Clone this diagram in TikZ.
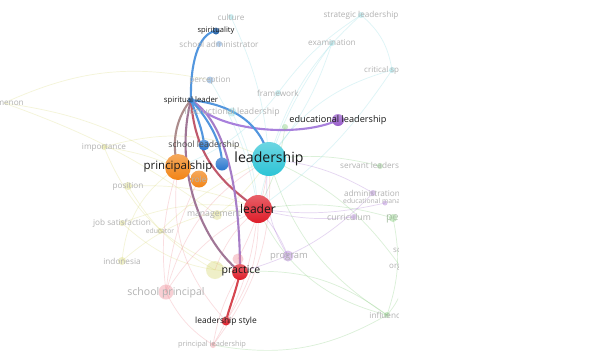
\documentclass[tikz,border=0pt]{standalone}
\usepackage{fontspec}
\setmainfont{Open Sans}
\definecolor{vcyan}{RGB}{45,196,214}
\definecolor{vred}{RGB}{222,28,40}
\definecolor{vorange}{RGB}{242,132,22}
\definecolor{vblue}{RGB}{40,118,206}
\definecolor{vpurple}{RGB}{152,92,202}
\definecolor{vgreen}{RGB}{110,196,100}
\definecolor{vyellow}{RGB}{212,212,100}
\definecolor{vpink}{RGB}{236,120,132}
\definecolor{vteal}{RGB}{120,214,222}
\definecolor{eblue}{RGB}{82,150,222}
\definecolor{epurple}{RGB}{168,128,220}
\definecolor{emauve}{RGB}{160,118,150}
\definecolor{ebrown}{RGB}{172,140,140}
\definecolor{ered}{RGB}{214,70,80}
\tikzset{
  bub/.style={circle,inner sep=0pt,minimum size=#1*0.06cm},
  lit/.style={top color=#1!70!white,bottom color=#1},
  dim/.style={fill=#1,opacity=0.35},
  word/.style={inner sep=0pt,text=black!90,font=\fontsize{#1}{#1}\selectfont},
  faint/.style={inner sep=0pt,text=black!30,font=\fontsize{#1}{#1}\selectfont},
  link/.style={draw=#1,line width=1.8pt,line cap=round},
  trace/.style={draw=#1,line width=0.6pt,opacity=0.25},
}
\begin{document}
\begin{tikzpicture}[x=0.03cm,y=-0.03cm]
\useasboundingbox (0,0) rectangle (614,350);
\fill[white] (0,0) rectangle (614,350);
\begin{scope}
\clip (0,0) rectangle (398,350);
% positions
\coordinate (spy) at (216,31);
\coordinate (cult) at (231,17);
\coordinate (schadm) at (219,44);
\coordinate (strat) at (361,15);
\coordinate (exam) at (332,43);
\coordinate (crit) at (392,70);
\coordinate (perc) at (210,80);
\coordinate (frame) at (278,93);
\coordinate (sl) at (191,100);
\coordinate (instr) at (232,112);
\coordinate (edu) at (338,120);
\coordinate (grn) at (285,127);
\coordinate (imp) at (104,147);
\coordinate (sld) at (204,145);
\coordinate (prin) at (178,167);
\coordinate (lead) at (269,159);
\coordinate (bb) at (222,164);
\coordinate (role) at (199,179);
\coordinate (pos) at (128,186);
\coordinate (serv) at (380,166);
\coordinate (adm) at (373,193);
\coordinate (edman) at (385,203);
\coordinate (curr) at (354,217);
\coordinate (perf) at (393,218);
\coordinate (leader) at (258,209);
\coordinate (mgmt) at (217,215);
\coordinate (jobs) at (122,223);
\coordinate (educ) at (160,231);
\coordinate (indo) at (122,261);
\coordinate (prog) at (288,256);
\coordinate (pk) at (238,259);
\coordinate (yl) at (215,270);
\coordinate (prac) at (240,272);
\coordinate (schp) at (166,292);
\coordinate (sc) at (400,250);
\coordinate (org) at (400,266);
\coordinate (infl) at (387,315);
\coordinate (ls) at (226,321);
\coordinate (pl) at (213,345);
\coordinate (phen) at (4,103);
% background links
\draw[trace=vyellow] (phen) to[bend left=18] (perc);
\draw[trace=vyellow] (phen) to[bend left=12] (prin);
\draw[trace=vyellow] (phen) to[bend left=8] (mgmt);
\draw[trace=vyellow] (imp) to[bend left=20] (lead);
\draw[trace=vyellow] (imp) to[bend right=25] (prac);
\draw[trace=vyellow] (imp) to[bend left=10] (role);
\draw[trace=vyellow] (pos) to[bend left=12] (leader);
\draw[trace=vyellow] (pos) to[bend right=15] (yl);
\draw[trace=vyellow] (jobs) to[bend left=15] (leader);
\draw[trace=vyellow] (jobs) to[bend right=20] (prac);
\draw[trace=vyellow] (educ) to[bend left=10] (lead);
\draw[trace=vyellow] (indo) to[bend left=20] (leader);
\draw[trace=vyellow] (indo) to[bend left=25] (prin);
\draw[trace=vyellow] (mgmt) to[bend right=10] (lead);
\draw[trace=vpink] (schp) to[bend left=15] (leader);
\draw[trace=vpink] (schp) to[bend left=22] (lead);
\draw[trace=vpink] (schp) to[bend right=15] (pl);
\draw[trace=vpink] (schp) to[bend left=12] (prin);
\draw[trace=vpink] (schp) to[bend left=10] (role);
\draw[trace=vpink] (pl) to[bend right=12] (leader);
\draw[trace=vpink] (pl) to[bend left=10] (prac);
\draw[trace=vpink] (pl) to[bend right=20] (lead);
\draw[trace=vpink] (ls) to[bend right=18] (leader);
\draw[trace=vpink] (ls) to[bend left=25] (prin);
\draw[trace=vpink] (pk) to[bend right=10] (lead);
\draw[trace=vpink] (yl) to[bend left=15] (leader);
\draw[trace=vgreen] (infl) to[bend left=20] (lead);
\draw[trace=vgreen] (infl) to[bend right=20] (prac);
\draw[trace=vgreen] (infl) to[bend right=15] (perf);
\draw[trace=vgreen] (infl) to[bend left=25] (leader);
\draw[trace=vgreen] (infl) to[bend left=20] (pl);
\draw[trace=vgreen] (infl) to[bend right=30] (sc);
\draw[trace=vgreen] (serv) to[bend right=10] (lead);
\draw[trace=vgreen] (perf) to[bend right=12] (leader);
\draw[trace=vgreen] (org) to[bend right=15] (lead);
\draw[trace=vgreen] (grn) to[bend left=10] (leader);
\draw[trace=vteal] (strat) to[bend right=15] (lead);
\draw[trace=vteal] (strat) to[bend right=10] (frame);
\draw[trace=vteal] (strat) to[bend left=20] (crit);
\draw[trace=vteal] (exam) to[bend left=10] (lead);
\draw[trace=vteal] (exam) to[bend right=12] (leader);
\draw[trace=vteal] (crit) to[bend right=20] (lead);
\draw[trace=vteal] (crit) to[bend left=10] (leader);
\draw[trace=vteal] (cult) to[bend left=10] (lead);
\draw[trace=vteal] (perc) to[bend left=10] (leader);
\draw[trace=vteal] (frame) to[bend left=15] (prin);
\draw[trace=vteal] (instr) to[bend left=10] (leader);
\draw[trace=vpurple] (adm) to[bend right=12] (lead);
\draw[trace=vpurple] (adm) to[bend left=15] (prac);
\draw[trace=vpurple] (curr) to[bend left=10] (leader);
\draw[trace=vpurple] (prog) to[bend right=10] (leader);
\draw[trace=vpurple] (prog) to[bend left=20] (lead);
\draw[trace=vpurple] (edman) to[bend left=10] (leader);
% links of spiritual leader
\draw[link=ebrown] (sl) .. controls (178,115) and (170,140) .. (prin);
\draw[link=emauve] (sl) .. controls (175,160) and (195,235) .. (prac);
\draw[link=ered!60!emauve] (sl) .. controls (195,160) and (225,185) .. (leader);
\draw[link=epurple!70!emauve] (sl) .. controls (232,125) and (240,210) .. (prac);
\draw[link=epurple] (sl) .. controls (215,132) and (300,138) .. (edu);
\draw[link=eblue] (sl) .. controls (190,65) and (198,33) .. (spy);
\draw[link=eblue] (sl) .. controls (235,105) and (262,125) .. (lead);
\draw[link=eblue] (sl) .. controls (196,115) and (203,130) .. (sld);
\draw[link=eblue] (sl) .. controls (205,115) and (222,140) .. (bb);
\draw[link=ered] (prac) .. controls (236,292) and (230,305) .. (ls);
% faded bubbles
\node[bub=3,dim=vteal] (cult-b) at (cult) {};
\node[bub=3,dim=vblue] (schadm-b) at (schadm) {};
\node[bub=3,dim=vteal] (strat-b) at (strat) {};
\node[bub=3,dim=vteal] (exam-b) at (exam) {};
\node[bub=3,dim=vteal] (crit-b) at (crit) {};
\node[bub=3.5,dim=vblue] (perc-b) at (perc) {};
\node[bub=3,dim=vteal] (frame-b) at (frame) {};
\node[bub=4.5,dim=vteal] (instr-b) at (instr) {};
\node[bub=3,dim=vgreen] (grn-b) at (grn) {};
\node[bub=3,dim=vyellow] (imp-b) at (imp) {};
\node[bub=4,dim=vyellow] (pos-b) at (pos) {};
\node[bub=3,dim=vgreen] (serv-b) at (serv) {};
\node[bub=3,dim=vpurple] (adm-b) at (adm) {};
\node[bub=2.5,dim=vpurple] (edman-b) at (edman) {};
\node[bub=3,dim=vpurple] (curr-b) at (curr) {};
\node[bub=4,dim=vgreen] (perf-b) at (perf) {};
\node[bub=5,dim=vyellow] (mgmt-b) at (mgmt) {};
\node[bub=3,dim=vyellow] (jobs-b) at (jobs) {};
\node[bub=3,dim=vyellow] (educ-b) at (educ) {};
\node[bub=4,dim=vyellow] (indo-b) at (indo) {};
\node[bub=5.5,dim=vpurple] (prog-b) at (prog) {};
\node[bub=5.5,dim=vpink] (pk-b) at (pk) {};
\node[bub=9,dim=vyellow] (yl-b) at (yl) {};
\node[bub=7.5,dim=vpink] (schp-b) at (schp) {};
\node[bub=3,dim=vgreen] (infl-b) at (infl) {};
\node[bub=3,dim=vpink] (pl-b) at (pl) {};
% highlighted bubbles
\node[bub=17,lit=vcyan] (lead-b) at (lead) {};
\node[bub=14,lit=vred] (leader-b) at (leader) {};
\node[bub=13,lit=vorange] (prin-b) at (prin) {};
\node[bub=8.5,lit=vorange] (role-b) at (role) {};
\node[bub=6.5,lit=vblue] (bb-b) at (bb) {};
\node[bub=5.5,lit=vblue] (sld-b) at (sld) {};
\node[bub=3.5,lit=vblue!80!black] (spy-b) at (spy) {};
\node[bub=3,lit=vblue] (sl-b) at (sl) {};
\node[bub=6,lit=vpurple] (edu-b) at (edu) {};
\node[bub=8,lit=vred] (prac-b) at (prac) {};
\node[bub=4.5,lit=vred] (ls-b) at (ls) {};
% labels
\node[faint=7] (cult-t) at (cult) {culture};
\node[faint=7] (schadm-t) at (schadm) {school administrator};
\node[faint=7] (strat-t) at (strat) {strategic leadership};
\node[faint=7] (exam-t) at (exam) {examination};
\node[faint=6.8,anchor=west] (crit-t) at (364,70) {critical spirituality};
\node[faint=7] (perc-t) at (perc) {perception};
\node[faint=7] (frame-t) at (frame) {framework};
\node[faint=7.4] (instr-t) at (instr) {instructional leadership};
\node[faint=7] (imp-t) at (imp) {importance};
\node[faint=7] (pos-t) at (pos) {position};
\node[faint=7,anchor=west] (serv-t) at (340,166) {servant leadership};
\node[faint=7] (adm-t) at (372,193) {administration};
\node[faint=5.8,anchor=west] (edman-t) at (343,202) {educational management};
\node[faint=7.4] (curr-t) at (349,217) {curriculum};
\node[faint=9,anchor=west,text=vgreen!60!black!45] (perf-t) at (386,218) {performance};
\node[faint=6.8,anchor=west] (sc-t) at (393,250) {school};
\node[faint=6.8,anchor=west] (org-t) at (389,267) {organization};
\node[faint=7.4] (mgmt-t) at (214,215) {management};
\node[faint=7] (jobs-t) at (jobs) {job satisfaction};
\node[faint=5.8] (educ-t) at (educ) {educator};
\node[faint=7] (indo-t) at (indo) {indonesia};
\node[faint=8] (prog-t) at (289,257) {program};
\node[faint=9] (schp-t) at (166,293) {school principal};
\node[faint=7] (infl-t) at (infl) {influence};
\node[faint=6.3] (pl-t) at (212,345) {principal leadership};
\node[faint=7] (role-t) at (role) {role};
\node[faint=7,anchor=east] (phen-t) at (24,103) {phenomenon};
\node[word=6.4] (spy-t) at (spy) {spirituality};
\node[word=6.6] (sl-t) at (sl) {spiritual leader};
\node[word=7.4,text=black!70] (sld-t) at (sld) {school leadership};
\node[word=7.8] (edu-t) at (edu) {educational leadership};
\node[word=12] (lead-t) at (lead) {leadership};
\node[word=9.8] (prin-t) at (prin) {principalship};
\node[word=10.3] (leader-t) at (leader) {leader};
\node[word=9] (prac-t) at (241,271) {practice};
\node[word=7.2] (ls-t) at (ls) {leadership style};
\end{scope}
\end{tikzpicture}
\end{document}
